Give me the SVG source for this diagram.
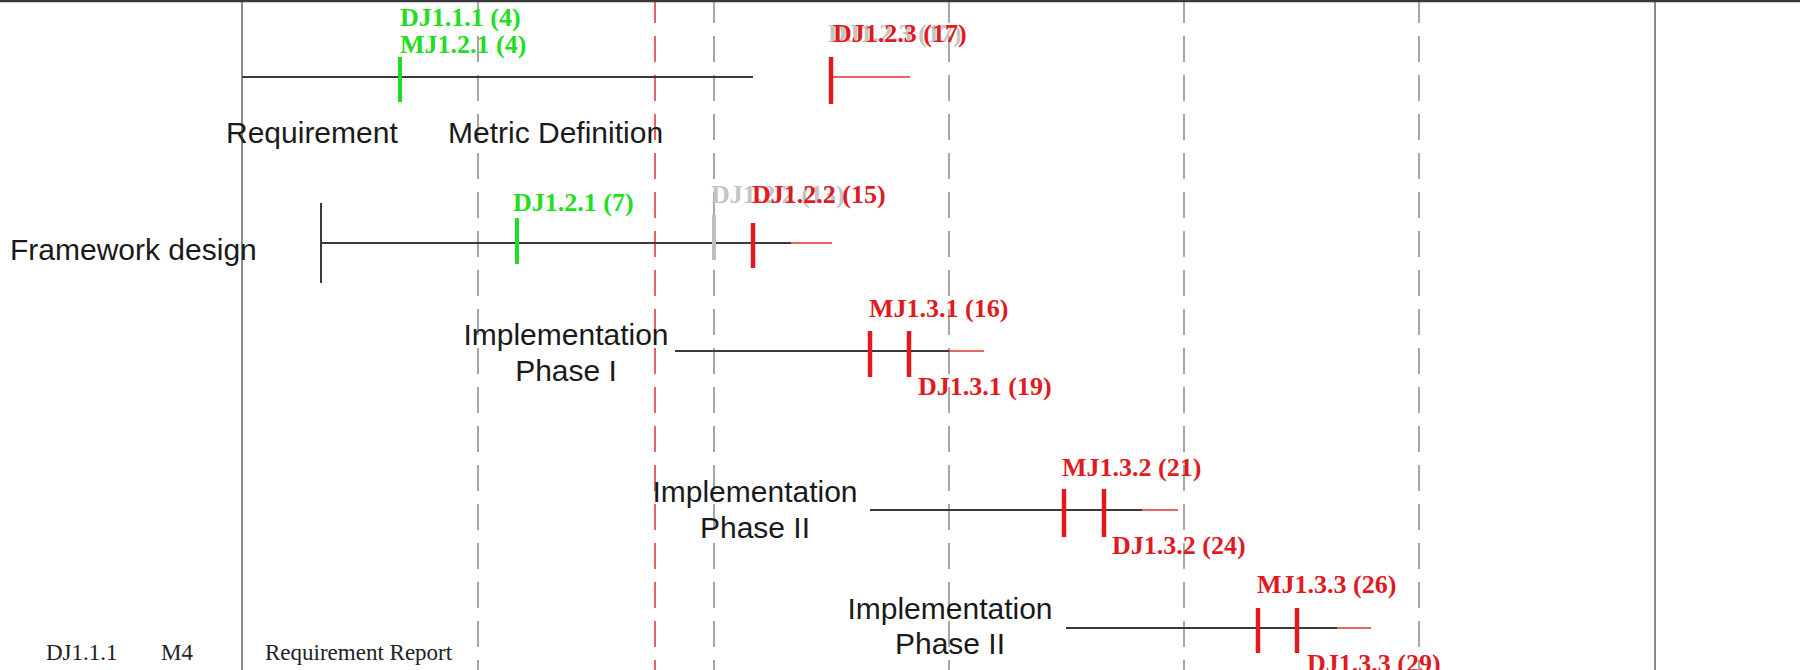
<svg xmlns="http://www.w3.org/2000/svg" width="1800" height="670" viewBox="0 0 1800 670">
<style>
.lbl{font-family:"Liberation Sans",Arial,sans-serif;font-size:30px;fill:#1a1a1a}
.ms{font-family:"Liberation Serif","Times New Roman",serif;font-size:26px;font-weight:bold}
.g{fill:#22dd22}
.r{fill:#e01a1f}
.ghost{fill:#c4c4c4}
.tbl{font-family:"Liberation Serif","Times New Roman",serif;font-size:23px;fill:#222}
.bar{stroke:#3a3a3a;stroke-width:2;fill:none}
.ext{stroke:#e43030;stroke-width:1.6;fill:none}
.tg{stroke:#22dd22;stroke-width:4}
.tr{stroke:#e01a1f;stroke-width:4.5}
.tgr{stroke:#bdbdbd;stroke-width:4}
.solid{stroke:#8c8c8c;stroke-width:2}
.dash{stroke:#8a8a8a;stroke-width:1.5;stroke-dasharray:26 13;stroke-dashoffset:3}
.rdash{stroke:#e03030;stroke-width:1.5;stroke-dasharray:26 13;stroke-dashoffset:3}
</style>
<rect width="1800" height="670" fill="#ffffff"/>
<g id="grid">
<line class="solid" x1="242" y1="0" x2="242" y2="670"/>
<line class="solid" x1="1655" y1="0" x2="1655" y2="670"/>
<line class="dash" x1="478" y1="0" x2="478" y2="670"/>
<line class="dash" x1="714" y1="0" x2="714" y2="670"/>
<line class="dash" x1="949" y1="0" x2="949" y2="670"/>
<line class="dash" x1="1184" y1="0" x2="1184" y2="670"/>
<line class="dash" x1="1419" y1="0" x2="1419" y2="670"/>
<line class="rdash" x1="655" y1="0" x2="655" y2="670"/>
<line x1="0" y1="1" x2="1800" y2="1" stroke="#3a3a3a" stroke-width="2.5"/>
</g>
<g id="row-requirement">
<line class="bar" x1="242" y1="77" x2="753" y2="77"/>
<line class="tg" x1="400" y1="57" x2="400" y2="102"/>
<text class="ms g" x="400" y="26">DJ1.1.1 (4)</text>
<text class="ms g" x="400" y="53">MJ1.2.1 (4)</text>
<text class="lbl" x="226" y="143">Requirement</text>
<text class="lbl" x="448" y="143">Metric Definition</text>
<line class="ext" x1="831" y1="77" x2="910" y2="77"/>
<line class="tr" x1="831" y1="57" x2="831" y2="104"/>
<text class="ms ghost" x="828" y="42">DJ1.2.3 (17)</text>
<text class="ms r" x="833" y="42">DJ1.2.3 (17)</text>
</g>
<g id="row-framework">
<text class="lbl" x="10" y="260">Framework design</text>
<line class="bar" x1="321" y1="203" x2="321" y2="283" stroke-width="1.6"/>
<line class="bar" x1="321" y1="243" x2="791" y2="243"/>
<line class="ext" x1="791" y1="243" x2="832" y2="243"/>
<line class="tg" x1="517" y1="218" x2="517" y2="264"/>
<text class="ms g" x="513" y="211">DJ1.2.1 (7)</text>
<line class="tgr" x1="714" y1="215" x2="714" y2="260"/>
<text class="ms ghost" x="711" y="203">DJ1.2.2 (13)</text>
<line class="tr" x1="753" y1="223" x2="753" y2="268"/>
<text class="ms r" x="752" y="203">DJ1.2.2 (15)</text>
</g>
<g id="row-impl1">
<text class="lbl" x="566" y="345" text-anchor="middle">Implementation</text>
<text class="lbl" x="566" y="381" text-anchor="middle">Phase I</text>
<line class="bar" x1="675" y1="351" x2="949" y2="351"/>
<line class="ext" x1="949" y1="351" x2="984" y2="351"/>
<line class="tr" x1="870" y1="331" x2="870" y2="377"/>
<line class="tr" x1="909" y1="331" x2="909" y2="377"/>
<text class="ms r" x="869" y="317">MJ1.3.1 (16)</text>
<text class="ms r" x="918" y="395">DJ1.3.1 (19)</text>
</g>
<g id="row-impl2">
<text class="lbl" x="755" y="502" text-anchor="middle">Implementation</text>
<text class="lbl" x="755" y="538" text-anchor="middle">Phase II</text>
<line class="bar" x1="870" y1="510" x2="1142" y2="510"/>
<line class="ext" x1="1142" y1="510" x2="1178" y2="510"/>
<line class="tr" x1="1064" y1="489" x2="1064" y2="537"/>
<line class="tr" x1="1104" y1="489" x2="1104" y2="537"/>
<text class="ms r" x="1062" y="476">MJ1.3.2 (21)</text>
<text class="ms r" x="1112" y="554">DJ1.3.2 (24)</text>
</g>
<g id="row-impl3">
<text class="lbl" x="950" y="619" text-anchor="middle">Implementation</text>
<text class="lbl" x="950" y="654" text-anchor="middle">Phase II</text>
<line class="bar" x1="1066" y1="628" x2="1337" y2="628"/>
<line class="ext" x1="1337" y1="628" x2="1371" y2="628"/>
<line class="tr" x1="1258" y1="608" x2="1258" y2="653"/>
<line class="tr" x1="1297" y1="608" x2="1297" y2="653"/>
<text class="ms r" x="1257" y="593">MJ1.3.3 (26)</text>
<text class="ms r" x="1307" y="672">DJ1.3.3 (29)</text>
</g>
<g id="legend">
<text class="tbl" x="46" y="660">DJ1.1.1</text>
<text class="tbl" x="161" y="660">M4</text>
<text class="tbl" x="265" y="660">Requirement Report</text>
</g>
</svg>
